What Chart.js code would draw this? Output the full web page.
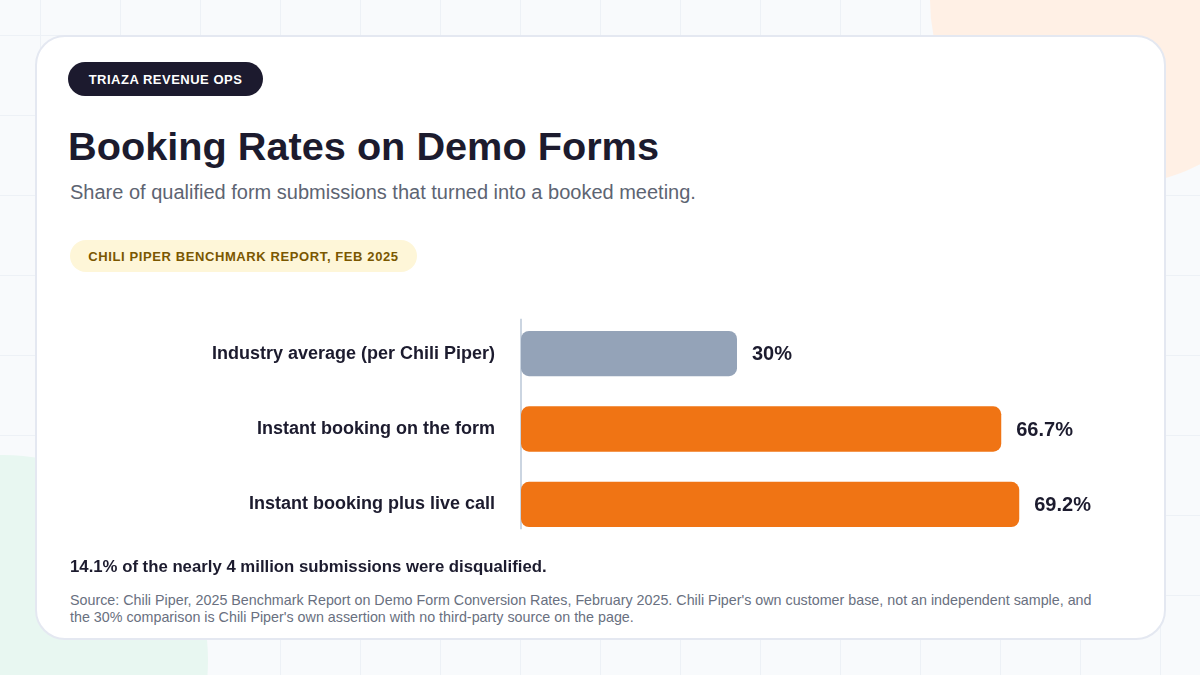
<!DOCTYPE html>
<html>
<head>
<meta charset="utf-8">
<script src="https://cdn.jsdelivr.net/npm/chart.js@4.4.1/dist/chart.umd.min.js"></script>
<style>
  html, body { margin: 0; padding: 0; }
  body {
    width: 1200px; height: 675px; position: relative; overflow: hidden;
    font-family: "Liberation Sans", Arial, sans-serif;
    background-color: #f8fafc;
    background-image:
      linear-gradient(to right, #edf1f6 1px, transparent 1px),
      linear-gradient(to bottom, #edf1f6 1px, transparent 1px);
    background-size: 80px 80px;
    background-position: 40px 35px;
  }
  .blob { position: absolute; border-radius: 50%; }
  .blob.orange { left: 930px; top: -185px; width: 370px; height: 370px; background: #fff0e5; }
  .blob.green { left: -202px; top: 455px; width: 410px; height: 410px; background: #e8f7f1; }
  .card {
    position: absolute; left: 35px; top: 35px; width: 1127px; height: 601px;
    background: #fff; border: 2px solid #e4e8f1; border-radius: 30px;
  }
  .badge {
    position: absolute; left: 68px; top: 62px; width: 195px; height: 34px;
    background: #1c1a2e; color: #fff; border-radius: 17px;
    font-size: 13px; font-weight: bold; letter-spacing: 0.5px;
    line-height: 35px; text-align: center;
  }
  h1 {
    position: absolute; left: 68px; top: 121px; margin: 0;
    font-size: 39.7px; font-weight: bold; color: #1c1b2e; line-height: 50px;
  }
  .sub {
    position: absolute; left: 70px; top: 181px; font-size: 20px; color: #5d6472;
  }
  .pill {
    position: absolute; left: 70px; top: 240px; width: 347px; height: 32px;
    background: #fef6d8; color: #7a5700; border-radius: 16px;
    font-size: 13px; font-weight: bold; letter-spacing: 0.6px;
    line-height: 33px; text-align: center;
  }
  .chartbox { position: absolute; left: 200px; top: 279px; width: 933px; height: 300px; }
  .chartbox canvas { display: block; }
  .note {
    position: absolute; left: 70px; top: 557px; font-size: 16.75px; font-weight: bold; color: #1c1b2e;
  }
  .source {
    position: absolute; left: 70px; top: 592px; width: 1030px;
    font-size: 14.3px; line-height: 17px; color: #697080;
  }
</style>
</head>
<body>
<div class="blob orange"></div>
<div class="blob green"></div>
<div class="card"></div>
<div class="badge">TRIAZA REVENUE OPS</div>
<h1>Booking Rates on Demo Forms</h1>
<div class="sub">Share of qualified form submissions that turned into a booked meeting.</div>
<div class="pill">CHILI PIPER BENCHMARK REPORT, FEB 2025</div>
<div class="chartbox"><canvas id="bookingChart" width="933" height="300"></canvas></div>
<div class="note">14.1% of the nearly 4 million submissions were disqualified.</div>
<div class="source">Source: Chili Piper, 2025 Benchmark Report on Demo Form Conversion Rates, February 2025. Chili Piper's own customer base, not an independent sample, and the 30% comparison is Chili Piper's own assertion with no third-party source on the page.</div>

<script>
var categories = [
  "Industry average (per Chili Piper)",
  "Instant booking on the form",
  "Instant booking plus live call"
];
var rates = [30, 66.7, 69.2];
var barColors = ["#94a3b8", "#f07414", "#f07414"];

// thin baseline at zero, a bit shorter than the plot area
var baseLine = {
  id: "baseLine",
  beforeDatasetsDraw: function (chart) {
    var ctx = chart.ctx;
    var x = chart.scales.x.getPixelForValue(0);
    ctx.save();
    ctx.strokeStyle = "#cbd5e1";
    ctx.lineWidth = 2;
    ctx.beginPath();
    ctx.moveTo(x, chart.chartArea.top + 3);
    ctx.lineTo(x, chart.chartArea.bottom - 13);
    ctx.stroke();
    ctx.restore();
  }
};

// writes the value next to the end of each bar
var valueLabels = {
  id: "valueLabels",
  afterDatasetsDraw: function (chart) {
    var ctx = chart.ctx;
    var meta = chart.getDatasetMeta(0);
    ctx.save();
    ctx.font = "bold 20px 'Liberation Sans', Arial, sans-serif";
    ctx.fillStyle = "#1c1b2e";
    ctx.textBaseline = "middle";
    ctx.textAlign = "left";
    meta.data.forEach(function (bar, i) {
      ctx.fillText(rates[i] + "%", bar.x + 15, bar.y + 1);
    });
    ctx.restore();
  }
};

var ctx = document.getElementById("bookingChart").getContext("2d");
var myChart = new Chart(ctx, {
  type: "bar",
  data: {
    labels: categories,
    datasets: [
      {
        data: rates,
        backgroundColor: barColors,
        borderRadius: 8,
        borderSkipped: false,
        barPercentage: 0.6,
        categoryPercentage: 1,
      },
    ],
  },
  options: {
    indexAxis: "y",
    responsive: false,
    animation: false,
    layout: { padding: { top: 15, bottom: 7, left: 0, right: 0 } },
    plugins: {
      legend: { display: false },
      tooltip: { enabled: false },
    },
    scales: {
      x: {
        display: false,
        min: 0,
        max: 85,
      },
      y: {
        afterFit: function (scale) {
          scale.width = 321;
        },
        grid: { display: false, drawTicks: false },
        border: { display: false },
        ticks: {
          padding: 26,
          color: "#1c1b2e",
          font: { family: "'Liberation Sans', Arial, sans-serif", size: 18, weight: "bold" },
        },
      },
    },
  },
  plugins: [baseLine, valueLabels],
});
</script>
</body>
</html>
